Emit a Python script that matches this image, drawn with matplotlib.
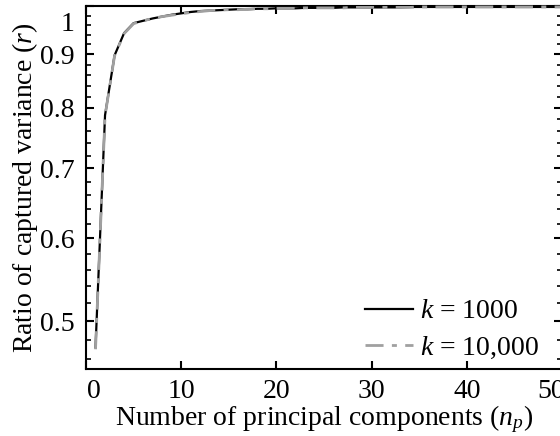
import matplotlib
matplotlib.use('agg')
import matplotlib.pyplot as plt
import matplotlib.transforms as mtransforms
from matplotlib.ticker import FixedLocator, FixedFormatter

# number of principal components
n_p = list(range(1, 51))

# ratio of captured variance, k = 1000
r_1000 = [0.472, 0.787, 0.898, 0.943, 0.964, 0.969, 0.974, 0.978, 0.982, 0.985,
          0.988, 0.990, 0.991, 0.992, 0.993, 0.994, 0.994, 0.995, 0.995, 0.996,
          0.996, 0.996, 0.997, 0.997, 0.997, 0.997, 0.998, 0.998, 0.998, 0.998,
          0.998, 0.998, 0.998, 0.999, 0.999, 0.999, 0.999, 0.999, 0.999, 0.999,
          0.999, 0.999, 0.999, 0.999, 0.999, 0.999, 0.999, 0.999, 0.999, 0.999]

# ratio of captured variance, k = 10,000
r_10000 = [0.470, 0.786, 0.897, 0.942, 0.963, 0.969, 0.974, 0.978, 0.981, 0.984,
           0.987, 0.989, 0.991, 0.992, 0.993, 0.993, 0.994, 0.995, 0.995, 0.996,
           0.996, 0.996, 0.997, 0.997, 0.997, 0.997, 0.997, 0.998, 0.998, 0.998,
           0.998, 0.998, 0.998, 0.998, 0.999, 0.999, 0.999, 0.999, 0.999, 0.999,
           0.999, 0.999, 0.999, 0.999, 0.999, 0.999, 0.999, 0.999, 0.999, 0.999]

x_ticks = [0, 10, 20, 30, 40, 50]
y_ticks = [0.5, 0.6, 0.7, 0.8, 0.9, 1.0]
y_tick_labels = ['0.5', '0.6', '0.7', '0.8', '0.9', '1']
y_minor = [0.46, 0.48, 0.52, 0.54, 0.56, 0.58, 0.62, 0.64, 0.66, 0.68,
           0.72, 0.74, 0.76, 0.78, 0.82, 0.84, 0.86, 0.88, 0.92, 0.94, 0.96, 0.98]

plt.rcParams['font.family'] = ['Liberation Serif', 'DejaVu Serif']
plt.rcParams['mathtext.fontset'] = 'custom'
plt.rcParams['mathtext.rm'] = 'Liberation Serif'
plt.rcParams['mathtext.it'] = 'Liberation Serif:italic'
plt.rcParams['font.size'] = 20

fig = plt.figure(figsize=(5.6, 4.36), dpi=100)
ax = fig.add_axes([86 / 560, 67 / 436, 476 / 560, (369 - 6.5) / 436])

ax.plot(n_p, r_1000, color='black', lw=1.6, label='$k$ = 1000', clip_on=False, zorder=3)
ax.plot(n_p, r_10000, color='#a0a0a0', lw=2.0, dashes=[6.5, 3, 1.8, 3],
        label='$k$ = 10,000', clip_on=False, zorder=4)

ax.set_yscale('log')
ax.set_xlim(0, 50)
ax.set_ylim(0.45, 1.0)

ax.xaxis.set_major_locator(FixedLocator(x_ticks))
ax.yaxis.set_major_locator(FixedLocator(y_ticks))
ax.yaxis.set_major_formatter(FixedFormatter(y_tick_labels))
ax.yaxis.set_minor_locator(FixedLocator(y_minor))
ax.yaxis.set_minor_formatter(FixedFormatter([''] * len(y_minor)))

for s in ax.spines.values():
    s.set_linewidth(1.5)

ax.tick_params(which='major', direction='in', length=6, width=1.5,
               top=True, right=True, labelsize=20, pad=8)
ax.tick_params(which='minor', direction='in', length=3.5, width=1.2,
               left=True, right=True)
ax.tick_params(axis='x', which='major', pad=7)

for t in ax.yaxis.get_minor_ticks():
    t.tick2line.set_color('#9a9a9a')

fig.canvas.draw()
# nudge edge labels inward like the original
xl = ax.get_xticklabels()
xl[0].set_transform(xl[0].get_transform() + mtransforms.ScaledTranslation(8 / 100, 0, fig.dpi_scale_trans))
xl[-1].set_transform(xl[-1].get_transform() + mtransforms.ScaledTranslation(-11 / 100, 0, fig.dpi_scale_trans))
yl = ax.get_yticklabels()
yl[-1].set_transform(yl[-1].get_transform() + mtransforms.ScaledTranslation(0, -15 / 100, fig.dpi_scale_trans))

ax.set_xlabel('Number of principal components ($n_p$)', fontsize=20, labelpad=0)
ax.set_ylabel('Ratio of captured variance ($r$)', fontsize=20, labelpad=0)

ax.legend(loc='lower right', frameon=False, fontsize=20, handlelength=1.75,
          handletextpad=0.25, labelspacing=0.38, borderpad=0,
          bbox_to_anchor=(553 / 560, (436 - 375) / 436), bbox_transform=fig.transFigure)

fig.savefig('out.png', dpi=100)
